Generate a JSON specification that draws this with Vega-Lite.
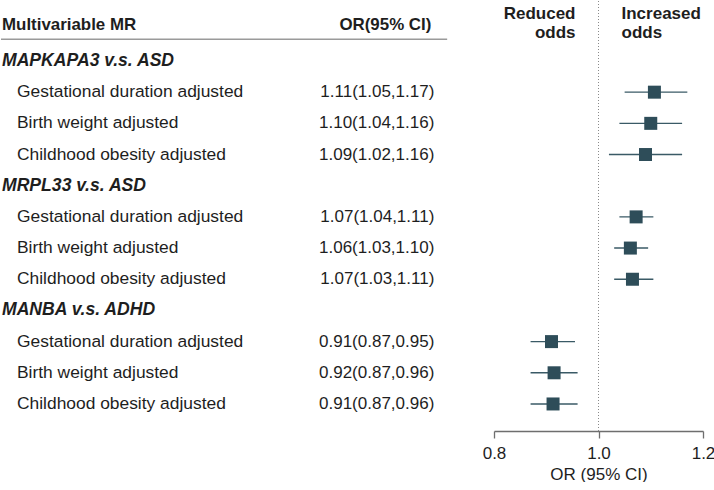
{
  "$schema": "https://vega.github.io/schema/vega-lite/v6.json",
  "padding": 0,
  "background": "white",
  "spacing": 0,
  "bounds": "flush",
  "config": {
    "view": {"stroke": null},
    "font": "Liberation Sans",
    "text": {"font": "Liberation Sans", "color": "#1e1e1e"}
  },
  "datasets": {
    "rows": [
      {"row": 1, "type": "group", "label": "MAPKAPA3 v.s. ASD"},
      {"row": 2, "type": "item", "label": "Gestational duration adjusted", "or": 1.107, "lo": 1.05, "hi": 1.17, "ortext": "1.11(1.05,1.17)"},
      {"row": 3, "type": "item", "label": "Birth weight adjusted", "or": 1.10, "lo": 1.04, "hi": 1.16, "ortext": "1.10(1.04,1.16)"},
      {"row": 4, "type": "item", "label": "Childhood obesity adjusted", "or": 1.09, "lo": 1.02, "hi": 1.16, "ortext": "1.09(1.02,1.16)"},
      {"row": 5, "type": "group", "label": "MRPL33 v.s. ASD"},
      {"row": 6, "type": "item", "label": "Gestational duration adjusted", "or": 1.072, "lo": 1.04, "hi": 1.105, "ortext": "1.07(1.04,1.11)"},
      {"row": 7, "type": "item", "label": "Birth weight adjusted", "or": 1.061, "lo": 1.03, "hi": 1.095, "ortext": "1.06(1.03,1.10)"},
      {"row": 8, "type": "item", "label": "Childhood obesity adjusted", "or": 1.065, "lo": 1.03, "hi": 1.105, "ortext": "1.07(1.03,1.11)"},
      {"row": 9, "type": "group", "label": "MANBA v.s. ADHD"},
      {"row": 10, "type": "item", "label": "Gestational duration adjusted", "or": 0.91, "lo": 0.87, "hi": 0.955, "ortext": "0.91(0.87,0.95)"},
      {"row": 11, "type": "item", "label": "Birth weight adjusted", "or": 0.915, "lo": 0.87, "hi": 0.96, "ortext": "0.92(0.87,0.96)"},
      {"row": 12, "type": "item", "label": "Childhood obesity adjusted", "or": 0.913, "lo": 0.87, "hi": 0.96, "ortext": "0.91(0.87,0.96)"}
    ]
  },
  "hconcat": [
    {
      "width": 493,
      "height": 430,
      "layer": [
        {
          "data": {"values": [{"row": -0.16, "left": "Multivariable MR", "right": "OR(95% CI)"}]},
          "layer": [
            {
              "mark": {"type": "text", "align": "left", "baseline": "middle", "fontSize": 16.9, "fontWeight": "bold", "dx": 1},
              "encoding": {
                "x": {"datum": 0, "type": "quantitative", "scale": {"domain": [0, 1], "nice": false, "zero": false}, "axis": null},
                "y": {"field": "row", "type": "quantitative", "scale": {"domain": [-0.924, 12.867], "reverse": true, "nice": false, "zero": false}, "axis": null},
                "text": {"field": "left"}
              }
            },
            {
              "mark": {"type": "text", "align": "right", "baseline": "middle", "fontSize": 16.9, "fontWeight": "bold"},
              "encoding": {
                "x": {"datum": 0.873, "type": "quantitative"},
                "y": {"field": "row", "type": "quantitative"},
                "text": {"field": "right"}
              }
            }
          ]
        },
        {
          "data": {"values": [{"row": 0.304}]},
          "mark": {"type": "rule", "color": "#9a9a9a", "strokeWidth": 1.6},
          "encoding": {
            "x": {"datum": 0, "type": "quantitative"},
            "x2": {"datum": 0.905},
            "y": {"field": "row", "type": "quantitative"}
          }
        },
        {
          "data": {"name": "rows"},
          "transform": [{"filter": "datum.type === 'group'"}],
          "mark": {"type": "text", "align": "left", "baseline": "middle", "fontSize": 17.6, "fontWeight": "bold", "fontStyle": "italic", "dx": 1},
          "encoding": {
            "x": {"datum": 0, "type": "quantitative"},
            "y": {"field": "row", "type": "quantitative"},
            "text": {"field": "label"}
          }
        },
        {
          "data": {"name": "rows"},
          "transform": [{"filter": "datum.type === 'item'"}],
          "mark": {"type": "text", "align": "left", "baseline": "middle", "fontSize": 17.4, "dx": 16},
          "encoding": {
            "x": {"datum": 0, "type": "quantitative"},
            "y": {"field": "row", "type": "quantitative"},
            "text": {"field": "label"}
          }
        },
        {
          "data": {"name": "rows"},
          "transform": [{"filter": "datum.type === 'item'"}],
          "mark": {"type": "text", "align": "right", "baseline": "middle", "fontSize": 17},
          "encoding": {
            "x": {"datum": 0.879, "type": "quantitative"},
            "y": {"field": "row", "type": "quantitative"},
            "text": {"field": "ortext"}
          }
        }
      ]
    },
    {
      "width": 209,
      "height": 430,
      "layer": [
        {
          "data": {"values": [{"ref": 1}]},
          "mark": {"type": "rule", "color": "#8a8a8a", "strokeWidth": 1, "strokeDash": [1, 2]},
          "encoding": {
            "x": {"field": "ref", "type": "quantitative", "scale": {"domain": [0.8, 1.2], "nice": false, "zero": false},
              "axis": {"values": [0.8, 1.0, 1.2], "format": ".1f", "title": "OR (95% CI)", "grid": false, "labelFlush": false,
                "domainColor": "#6e6e6e", "domainWidth": 1.3, "tickColor": "#6e6e6e", "tickWidth": 1.3, "tickSize": 7,
                "labelFont": "Liberation Sans", "labelFontSize": 17, "labelColor": "#1e1e1e", "labelPadding": 7,
                "titleFont": "Liberation Sans", "titleFontSize": 17, "titleFontWeight": "normal", "titleColor": "#1e1e1e", "titlePadding": 5}
            }
          }
        },
        {
          "data": {"values": [{"row": -0.52, "txt": "Reduced\nodds"}]},
          "mark": {"type": "text", "align": "right", "baseline": "middle", "fontSize": 17, "fontWeight": "bold", "lineBreak": "\n", "lineHeight": 19, "dx": -23},
          "encoding": {
            "x": {"datum": 1, "type": "quantitative"},
            "y": {"field": "row", "type": "quantitative", "scale": {"domain": [-0.924, 12.867], "reverse": true, "nice": false, "zero": false}, "axis": null},
            "text": {"field": "txt"}
          }
        },
        {
          "data": {"values": [{"row": -0.52, "txt": "Increased\nodds"}]},
          "mark": {"type": "text", "align": "left", "baseline": "middle", "fontSize": 17, "fontWeight": "bold", "lineBreak": "\n", "lineHeight": 19, "dx": 23},
          "encoding": {
            "x": {"datum": 1, "type": "quantitative"},
            "y": {"field": "row", "type": "quantitative"},
            "text": {"field": "txt"}
          }
        },
        {
          "data": {"name": "rows"},
          "transform": [{"filter": "datum.type === 'item'"}],
          "mark": {"type": "rule", "color": "#3a5a66", "strokeWidth": 1.4},
          "encoding": {
            "x": {"field": "lo", "type": "quantitative"},
            "x2": {"field": "hi"},
            "y": {"field": "row", "type": "quantitative"}
          }
        },
        {
          "data": {"name": "rows"},
          "transform": [{"filter": "datum.type === 'item'"}],
          "mark": {"type": "point", "shape": "square", "filled": true, "size": 169, "opacity": 1, "color": "#2e4d59"},
          "encoding": {
            "x": {"field": "or", "type": "quantitative"},
            "y": {"field": "row", "type": "quantitative"}
          }
        }
      ]
    }
  ]
}
